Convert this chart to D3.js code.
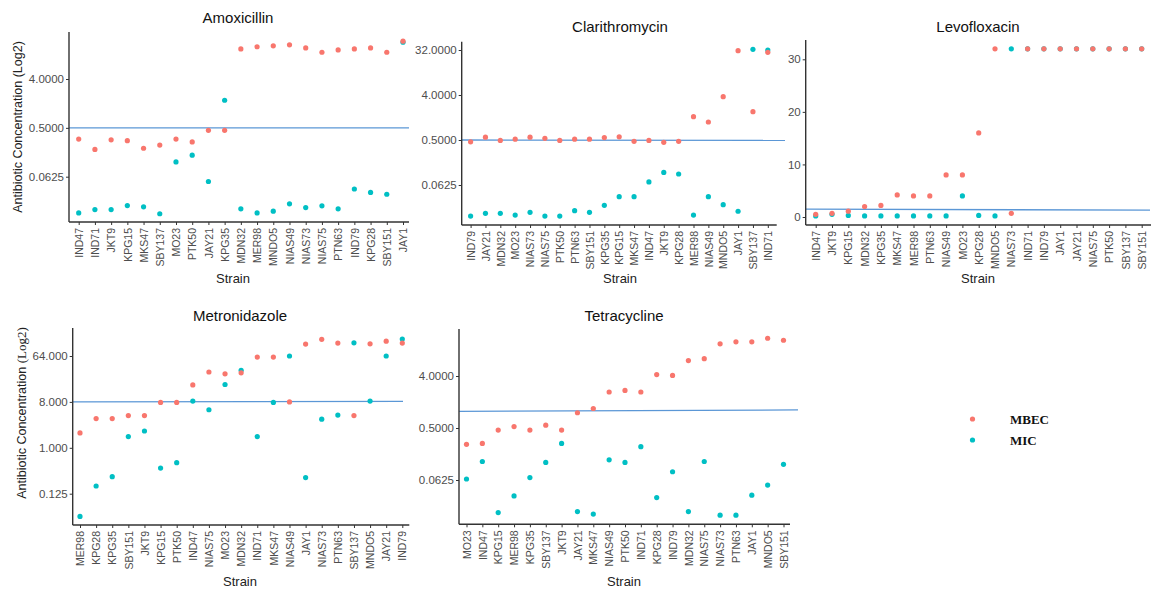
<!DOCTYPE html>
<html><head><meta charset="utf-8">
<script src="https://cdn.jsdelivr.net/npm/d3@7"></script>
<style>body{margin:0;background:#fff}svg{display:block}</style>
</head><body>
<svg id="c" width="1152" height="590"></svg>
<script>
// ---------- DATA ----------
const amoxStrains = ["IND47","IND71","JKT9","KPG15","MKS47","SBY137","MO23","PTK50","JAY21","KPG35","MDN32","MER98","MNDO5","NIAS49","NIAS73","NIAS75","PTN63","IND79","KPG28","SBY151","JAY1"];
const amoxMBEC = [0.31,0.20,0.30,0.29,0.21,0.24,0.31,0.275,0.45,0.45,14.4,15.8,16.4,17.1,15.0,12.5,13.8,14.4,15.0,12.5,20];
const amoxMIC  = [0.0134,0.0154,0.0154,0.0183,0.0173,0.0129,0.117,0.156,0.051,1.62,0.0159,0.0134,0.0144,0.0197,0.0168,0.0181,0.0159,0.037,0.032,0.0296,19.2];
const amoxTicks = [0.0625,0.5,4];
const amoxRef = [0.5,0.5];

const clarStrains = ["IND79","JAY21","MDN32","MO23","NIAS73","NIAS75","PTK50","PTN63","SBY151","KPG35","KPG15","MKS47","IND47","JKT9","KPG28","MER98","NIAS49","MNDO5","JAY1","SBY137","IND71"];
const clarMBEC = [0.46,0.57,0.49,0.52,0.57,0.54,0.49,0.52,0.52,0.56,0.58,0.47,0.49,0.45,0.47,1.47,1.15,3.7,31,1.85,28.8];
const clarMIC  = [0.0149,0.0169,0.0169,0.0156,0.0177,0.0149,0.0149,0.0191,0.0177,0.0244,0.0364,0.0364,0.072,0.112,0.104,0.0156,0.0364,0.0252,0.0186,33,32];
const clarTicks = [0.0625,0.5,4,32];
const clarRef = [0.5,0.49];

const levoStrains = ["IND47","JKT9","KPG15","MDN32","KPG35","MKS47","MER98","PTN63","NIAS49","MO23","KPG28","MNDO5","NIAS73","IND71","IND79","JAY1","JAY21","NIAS75","PTK50","SBY137","SBY151"];
const levoMBEC = [0.5,0.7,1.1,2,2.2,4.2,4,4,8,8,16,32,0.7,32,32,32,32,32,32,32,32];
const levoMIC  = [0.2,0.5,0.3,0.2,0.2,0.2,0.2,0.2,0.2,4,0.3,0.2,32,32,32,32,32,32,32,32,32];
const levoTicks = [0,10,20,30];
const levoRef = [1.5,1.3];

const metroStrains = ["MER98","KPG28","KPG35","SBY151","JKT9","KPG15","PTK50","IND47","NIAS75","MO23","MDN32","IND71","MKS47","NIAS49","JAY1","NIAS73","PTN63","SBY137","MNDO5","JAY21","IND79"];
const metroMBEC = [1.96,3.76,3.76,4.3,4.3,7.8,7.8,17.3,31,28.5,29.8,61,61,8,110,136,115,4.3,111,125,115];
const metroMIC  = [0.0446,0.177,0.27,1.66,2.14,0.40,0.51,8.3,5.6,17.6,33.4,1.66,7.8,64,0.26,3.66,4.4,116,8.3,64,138];
const metroTicks = [0.125,1,8,64];
const metroRef = [8,8.2];

const tetraStrains = ["MO23","IND47","KPG15","MER98","KPG35","SBY137","JKT9","JAY21","MKS47","NIAS49","PTK50","IND71","KPG28","IND79","MDN32","NIAS75","NIAS73","PTN63","JAY1","MNDO5","SBY151"];
const tetraMBEC = [0.26,0.27,0.46,0.53,0.46,0.56,0.46,0.92,1.09,2.11,2.25,2.11,4.23,4.1,7.4,8,14.5,15.7,15.7,18.1,16.7];
const tetraMIC  = [0.065,0.131,0.017,0.033,0.069,0.126,0.27,0.0177,0.016,0.14,0.126,0.237,0.031,0.087,0.0177,0.131,0.0153,0.0153,0.034,0.051,0.117];
const tetraTicks = [0.0625,0.5,4];
const tetraRef = [0.97,1.03];

const seriesNames = ["MBEC","MIC"];
const seriesColors = ["#F8766D","#00BFC4"];

// ---------- LAYOUT ----------
const panels = [
  {title:"Amoxicillin", strains:amoxStrains, mbec:amoxMBEC, mic:amoxMIC, ticks:amoxTicks, ref:amoxRef, fmt:d3.format(".4f"), log:true,
   left:69, right:409, top:32, bottom:222, x0:78.7, x1:403, cal:[[0.0625,176.7],[4,79]], refEnd:409,
   titleX:238, titleY:23, stripX:233, stripY:283, yTitle:{x:18, y:127, serif:false}},
  {title:"Clarithromycin", strains:clarStrains, mbec:clarMBEC, mic:clarMIC, ticks:clarTicks, ref:clarRef, fmt:d3.format(".4f"), log:true,
   left:461.7, right:776.7, top:41.7, bottom:225, x0:470.6, x1:767.8, cal:[[0.0625,185],[32,50]], refEnd:785,
   titleX:620, titleY:32, stripX:620, stripY:283},
  {title:"Levofloxacin", strains:levoStrains, mbec:levoMBEC, mic:levoMIC, ticks:levoTicks, ref:levoRef, fmt:d3.format("d"), log:false,
   left:805.7, right:1151, top:40, bottom:225, x0:815.7, x1:1141.7, cal:[[0,217],[30,59.3]], refEnd:1150,
   titleX:978, titleY:32, stripX:978, stripY:283},
  {title:"Metronidazole", strains:metroStrains, mbec:metroMBEC, mic:metroMIC, ticks:metroTicks, ref:metroRef, fmt:d3.format(".3f"), log:true,
   left:72.7, right:409.3, top:328, bottom:525, x0:80, x1:402.3, cal:[[0.125,493.7],[64,356]], refEnd:403,
   titleX:240, titleY:321, stripX:240, stripY:586, yTitle:{x:22, y:413, serif:true}},
  {title:"Tetracycline", strains:tetraStrains, mbec:tetraMBEC, mic:tetraMIC, ticks:tetraTicks, ref:tetraRef, fmt:d3.format(".4f"), log:true,
   left:459, right:790, top:329, bottom:524.3, x0:466.5, x1:783.5, cal:[[0.0625,480],[4,376]], refEnd:798,
   titleX:624, titleY:321, stripX:624, stripY:586}
];

const svg = d3.select("#c");
const SANS = "'Liberation Sans', Arial, sans-serif";
const axisCol = "#333333", tickTextCol = "#4d4d4d";

panels.forEach(p => {
  const g = svg.append("g");
  const x = d3.scalePoint().domain(p.strains).range([p.x0, p.x1]);
  const y = (p.log ? d3.scaleLog().base(2) : d3.scaleLinear())
      .domain([p.cal[0][0], p.cal[1][0]]).range([p.cal[0][1], p.cal[1][1]]);

  // reference line
  g.append("line")
    .attr("x1", p.left).attr("x2", p.refEnd)
    .attr("y1", y(p.ref[0])).attr("y2", y(p.ref[1]))
    .attr("stroke", "#5b97d6").attr("stroke-width", 1.3);

  // y axis
  const ya = d3.axisLeft(y).tickValues(p.ticks).tickFormat(p.fmt).tickSize(3).tickPadding(2);
  const yg = g.append("g").attr("transform", `translate(${p.left},0)`).call(ya);
  yg.select(".domain").remove();
  yg.selectAll(".tick line").attr("stroke", axisCol);
  yg.selectAll(".tick text").attr("fill", tickTextCol).style("font-family", SANS).style("font-size", "11.5px");
  g.append("line").attr("x1", p.left).attr("x2", p.left).attr("y1", p.top).attr("y2", p.bottom)
    .attr("stroke", axisCol).attr("stroke-width", 1.4);

  // x axis
  const xa = d3.axisBottom(x).tickSize(3).tickPadding(3);
  const xg = g.append("g").attr("transform", `translate(0,${p.bottom})`).call(xa);
  xg.select(".domain").remove();
  xg.selectAll(".tick line").attr("stroke", axisCol);
  xg.selectAll(".tick text")
    .attr("fill", tickTextCol).style("font-family", SANS).style("font-size", "10.5px")
    .attr("text-anchor", "end").attr("transform", "rotate(-90)")
    .attr("x", -6).attr("y", 0).attr("dy", "0.35em");
  g.append("line").attr("x1", p.left).attr("x2", p.right).attr("y1", p.bottom).attr("y2", p.bottom)
    .attr("stroke", axisCol).attr("stroke-width", 1.4);

  // points: MIC first, MBEC on top
  [[p.mic, 1], [p.mbec, 0]].forEach(([vals, si]) => {
    g.append("g").selectAll("circle").data(vals).join("circle")
      .attr("cx", (d, i) => x(p.strains[i]))
      .attr("cy", d => y(d))
      .attr("r", 2.6)
      .attr("fill", seriesColors[si]);
  });

  // title
  g.append("text").attr("x", p.titleX).attr("y", p.titleY).attr("text-anchor", "middle")
    .style("font-family", SANS).style("font-size", "15px").attr("fill", "#111").text(p.title);
  // x title
  g.append("text").attr("x", p.stripX).attr("y", p.stripY).attr("text-anchor", "middle")
    .style("font-family", SANS).style("font-size", "13px").attr("fill", "#222").text("Strain");
  // y title
  if (p.yTitle) {
    const t = g.append("text").attr("transform", `translate(${p.yTitle.x},${p.yTitle.y}) rotate(-90)`)
      .attr("text-anchor", "middle").attr("dy", "0.35em")
      .style("font-family", SANS).style("font-size", "12.5px").attr("fill", "#222");
    if (p.yTitle.serif) {
      t.append("tspan").text("Antibiotic Concentration ");
      t.append("tspan").style("font-family", "'Liberation Serif', 'Times New Roman', serif").style("font-size", "13px").text("(Log2)");
    } else {
      t.text("Antibiotic Concentration (Log2)");
    }
  }
});

// legend
const lg = svg.append("g");
seriesNames.forEach((n, i) => {
  lg.append("circle").attr("cx", 972.5).attr("cy", 419 + i * 21).attr("r", 2.6).attr("fill", seriesColors[i]);
  lg.append("text").attr("x", 1010).attr("y", 419 + i * 21).attr("dy", "0.35em")
    .style("font-family", "'Liberation Serif', 'Times New Roman', serif").style("font-size", "13px")
    .style("font-weight", "bold").attr("fill", "#111").text(n);
});
</script>
</body></html>
